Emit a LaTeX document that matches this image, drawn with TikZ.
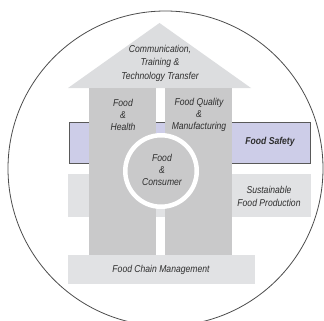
\documentclass[tikz,border=0pt]{standalone}
\usepackage{fontspec}
\setmainfont{Liberation Sans}[FakeStretch=0.86]
\definecolor{roofgray}{HTML}{DCDDDF}
\definecolor{pillargray}{HTML}{C9C9CA}
\definecolor{lightbox}{HTML}{E1E2E4}
\definecolor{lav}{HTML}{CDCDE8}
\definecolor{txt}{HTML}{2E2E2E}
\begin{document}
\begin{tikzpicture}[x=1pt,y=-1pt,
  lbl/.style={text=txt,font=\fontsize{10}{12}\selectfont\itshape,align=center,inner sep=0pt},
  ]
\useasboundingbox (0,0) rectangle (324,321);
\begin{scope}
\clip (0,0) rectangle (324,321);
\draw[line width=0.8pt,draw=black!70] (165.5,168.5) circle[radius=157.5];
\end{scope}
% background bands
\node[draw=black!65,line width=1pt,fill=lav,minimum width=241pt,minimum height=41pt,inner sep=0pt,anchor=north west] (safety) at (69,122) {};
\node[fill=lightbox,minimum width=243pt,minimum height=43pt,inner sep=0pt,anchor=north west] (sust) at (68,174) {};
% roof
\filldraw[fill=roofgray,draw=none] (68,88) -- (159.5,23) -- (251,88) -- cycle;
\coordinate (apex) at (159.5,23);
% pillars
\node[fill=pillargray,minimum width=67pt,minimum height=167pt,inner sep=0pt,anchor=north west] (lp) at (89,88) {};
\node[fill=pillargray,minimum width=67pt,minimum height=167pt,inner sep=0pt,anchor=north west] (rp) at (165,88) {};
% base
\node[fill=lightbox,minimum width=187pt,minimum height=29pt,inner sep=0pt,anchor=north west] (chain) at (68,255) {};
% consumer circle
\node[circle,draw=white,line width=4.5pt,fill=pillargray,minimum size=71.5pt,inner sep=0pt] (cons) at (161,171) {};
% labels
\node[lbl,font=\fontsize{10}{13.5}\selectfont\itshape] (comm) at (160,63) {Communication,\\Training \&\\Technology Transfer};
\node[lbl] (health) at (123,115) {Food\\\&\\Health};
\node[lbl] (quality) at (199,115) {Food Quality\\\&\\Manufacturing};
\node[lbl,font=\fontsize{10}{12}\selectfont\bfseries\itshape] (safetyt) at (270,142) {Food Safety};
\node[lbl] (const) at (162,170) {Food\\\&\\Consumer};
\node[lbl,font=\fontsize{10}{13}\selectfont\itshape] (sustt) at (269,196.5) {Sustainable\\Food Production};
\node[lbl] (chaint) at (161,269.5) {Food Chain Management};
\end{tikzpicture}
\end{document}
